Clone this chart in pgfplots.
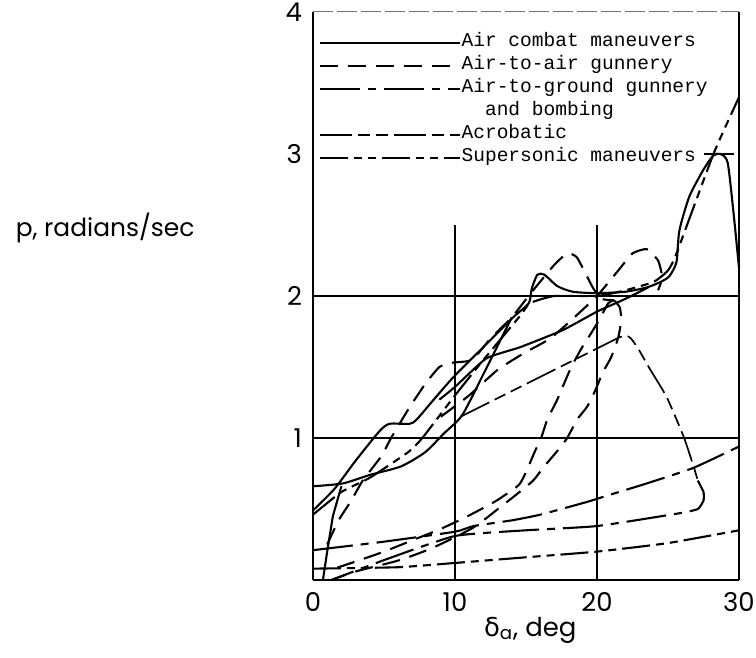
\documentclass[border=0pt]{standalone}
\usepackage{fontspec}
\setmainfont{Poppins}
\newfontfamily\legendfont{Liberation Mono}
\newfontfamily\greekfont{DejaVu Sans}
\usepackage{pgfplots}
\pgfplotsset{compat=1.18}
\tikzset{
 aircombat/.style={black, line width=1.05bp},
 airair/.style={black, line width=1.05bp, dash pattern=on 9bp off 5bp},
 airground/.style={black, line width=1.05bp, dash pattern=on 20bp off 4bp on 4bp off 4bp},
 acro/.style={black, line width=0.85bp, dash pattern=on 16bp off 3bp on 6bp off 3bp on 6bp off 3bp},
 superson/.style={black, line width=1.05bp, dash pattern=on 14bp off 3bp on 4bp off 3bp on 4bp off 3bp},
 gridl/.style={black, line width=0.7bp},
}
\begin{document}
\begin{tikzpicture}
\begin{axis}[
 width=213bp, height=284bp, scale only axis,
 xmin=0,xmax=30,ymin=0,ymax=4,
 xtick={0,10,20,30}, ytick={1,2,3,4},
 major tick length=0pt,
 axis line style={draw=none},
 clip=false,
 tick label style={font=\fontsize{13}{13}\selectfont, /pgf/number format/assume math mode=true},
 yticklabel style={xshift=-2bp},
 xticklabel style={yshift=-2.5bp},
 xlabel={{\greekfont δ}\textsubscript{a}, deg},
 ylabel={p, radians/sec},
 every axis x label/.style={at={(axis description cs:0.51,-0.088)}, anchor=center, font=\fontsize{13}{13}\selectfont},
 every axis y label/.style={at={(axis description cs:-0.488,0.62)}, anchor=center, font=\fontsize{12.5}{12.5}\selectfont},
 legend image code/.code={\draw[#1] (0bp,0bp) -- (70bp,0bp);},
 legend style={at={(axis description cs:0.012,0.966)}, anchor=north west, draw=none, fill=none,
   font=\legendfont\fontsize{9.8}{10}\selectfont, inner sep=0pt, row sep=0pt, column sep=0.5bp,
   nodes={inner sep=0pt, text height=7.5bp, text depth=4bp}, cells={anchor=west}},
]
\addlegendimage{aircombat}
\addlegendimage{airair}
\addlegendimage{airground}
\addlegendimage{empty legend}
\addlegendimage{acro}
\addlegendimage{superson}

% frame and grid
\addplot[forget plot, black, line width=1.4bp] coordinates {(0,0) (0,4)};
\addplot[forget plot, black, line width=1bp] coordinates {(0,0) (30,0)};
\addplot[forget plot, black, line width=1bp] coordinates {(30,0) (30,4)};
\addplot[forget plot, black!55, line width=0.5bp, dash pattern=on 10bp off 2bp] coordinates {(0,4) (30,4)};
\addplot[forget plot, gridl] coordinates {(10,0) (10,2.5)};
\addplot[forget plot, gridl] coordinates {(20,0) (20,2.5)};
\addplot[forget plot, gridl] coordinates {(0,1) (30,1)};
\addplot[forget plot, gridl] coordinates {(0,2) (30,2)};
\addplot[forget plot, gridl, dash pattern=on 6bp off 3bp] coordinates {(27.5,3) (30,3)};

% Air combat maneuvers (solid bump curve)
\addplot[forget plot, aircombat, smooth, tension=0.4] coordinates {
(0,0.49) (1.5,0.64) (3,0.84) (4.7,1.05) (5.4,1.10) (6.8,1.10) (7.3,1.13) (8.5,1.27) (9.9,1.43)
(12,1.64) (14.1,1.85) (15.2,1.95) (15.4,2.05) (15.8,2.15) (16.3,2.15) (17.2,2.07) (18.3,2.03)
(20,2.02) (22,2.03) (23.5,2.06) (24.5,2.1) (25.1,2.14) (25.6,2.24) (25.8,2.46) (26.5,2.70)
(27.5,2.89) (28.2,2.99) (28.7,3.0) (29.2,2.94) (29.6,2.6) (30,2.2)};
% solid lower bowed curve
\addplot[forget plot, aircombat, smooth, tension=0.4] coordinates {
(0,0.66) (2.1,0.68) (4,0.74) (6.2,0.8) (7.9,0.9) (9.2,1.03) (10.5,1.16) (12,1.45) (14,1.85)};
% steep line at left
\addplot[forget plot, aircombat] coordinates {(0.7,0) (1.0,0.2) (1.4,0.45) (2,0.66)};
% solid line with arrows
\addplot[forget plot, aircombat, smooth, tension=0.3] coordinates {
(8.9,1.27) (10,1.36) (12.2,1.56) (14.6,1.64) (17.6,1.76) (20,1.89) (22,1.98) (23.6,2.06)};

% Supersonic maneuvers
\addplot[forget plot, superson, smooth, tension=0.3] coordinates {
(0,0.46) (2,0.62) (4,0.72) (6.7,0.9) (7.7,1.0) (10,1.3) (12,1.55) (14.5,1.85) (15.3,1.95)
(17,2.0) (20,2.0) (22,2.04) (24,2.1) (25,2.18) (25.6,2.3) (28.2,3.0) (30,3.4)};
\addplot[forget plot, black, line width=1.4bp, dash pattern=on 14bp off 3bp] coordinates {(30,3.4) (30,2.1)};
\addplot[forget plot, superson, smooth, tension=0.3] coordinates {
(0,0.08) (6,0.09) (10,0.12) (15,0.16) (20,0.2) (25,0.26) (30,0.35)};

% Air-to-air gunnery
\addplot[forget plot, airair, smooth, tension=0.3] coordinates {
(1.0,0.25) (1.8,0.42) (2.7,0.56) (3.5,0.7) (4.8,0.87) (5.5,1.0) (6.7,1.2) (7.9,1.38) (8.9,1.5)
(9.8,1.53) (11.2,1.55) (12.5,1.7) (14,1.85) (15.5,2.04) (17,2.22) (17.9,2.30) (18.6,2.27)
(19.7,2.06) (20.3,1.98) (21.2,1.97)};
\addplot[forget plot, airair, smooth, tension=0.3] coordinates {
(9,1.15) (11,1.3) (13,1.48) (14.9,1.6) (16.7,1.7) (18.3,1.84) (20,2.0) (21.5,2.18) (22.5,2.3)
(23.5,2.33) (24.3,2.25) (24.6,2.13) (24.3,2.04)};
\addplot[forget plot, airair, smooth, tension=0.4] coordinates {
(21.2,1.97) (20.8,1.95) (20.2,1.84) (19.6,1.74) (18.9,1.63) (18.1,1.48) (17.2,1.27) (16.5,1.13)
(16.1,1.01) (15.6,0.9) (15,0.76) (14.5,0.67) (13.4,0.59) (12.6,0.54) (10.9,0.45) (9,0.36)
(7,0.28) (5,0.2) (3,0.13) (1.5,0.08)};
\addplot[forget plot, airair, smooth, tension=0.4] coordinates {
(21.2,1.97) (21.6,1.92) (21.7,1.83) (21.5,1.71) (21.0,1.57) (20.4,1.46) (19.9,1.34) (19.3,1.22)
(18.6,1.13) (17.9,1.0) (17.3,0.92) (16.2,0.79) (15.5,0.70) (14.3,0.60) (13.4,0.53) (11.3,0.37)
(8.5,0.23) (6.1,0.14) (3,0.06) (1.3,0.0)};

% Air-to-ground gunnery and bombing
\addplot[forget plot, airground, smooth, tension=0.3] coordinates {
(0,0.21) (5,0.27) (10,0.34) (11.3,0.38) (14,0.42) (16,0.46) (19.3,0.55) (20.9,0.60)
(23.5,0.68) (26.8,0.79) (30,0.94)};
\addplot[forget plot, airground, smooth, tension=0.3] coordinates {
(27.1,0.70) (27.5,0.62) (27.5,0.56) (27.1,0.50) (25.8,0.47) (20,0.38) (15,0.35) (10,0.31)
(5,0.14) (1.3,0.0)};

% Acrobatic
\addplot[forget plot, acro, smooth, tension=0.3] coordinates {
(10.4,1.15) (14.6,1.36) (20,1.63) (21,1.68) (21.6,1.71) (22.1,1.72) (22.4,1.70) (22.9,1.63)
(23.7,1.49) (24.9,1.29) (26.1,1.01) (26.8,0.80) (27.1,0.70)};

\legend{Air combat maneuvers, Air-to-air gunnery, Air-to-ground gunnery, \phantom{Ai}and bombing, Acrobatic, Supersonic maneuvers}
\end{axis}
\pgfresetboundingbox
\path[use as bounding box] (-156.5bp,-39bp) rectangle (221.5bp,290bp);
\end{tikzpicture}
\end{document}
